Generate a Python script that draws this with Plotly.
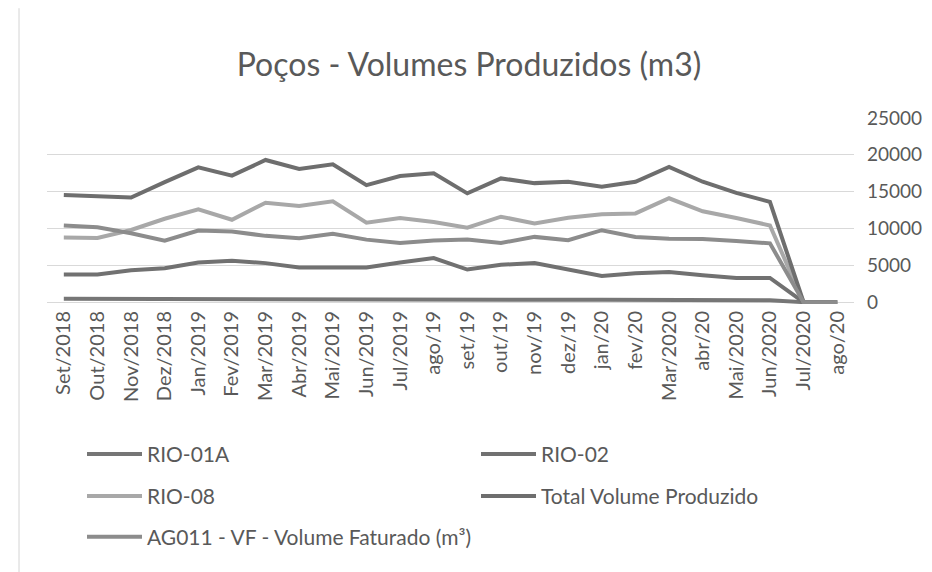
import plotly.graph_objects as go

months = ["Set/2018", "Out/2018", "Nov/2018", "Dez/2018", "Jan/2019", "Fev/2019",
          "Mar/2019", "Abr/2019", "Mai/2019", "Jun/2019", "Jul/2019", "ago/19",
          "set/19", "out/19", "nov/19", "dez/19", "jan/20", "fev/20",
          "Mar/2020", "abr/20", "Mai/2020", "Jun/2020", "Jul/2020", "ago/20"]

rio_01a = [450, 450, 430, 420, 410, 400, 390, 380, 370, 360, 350, 350,
           340, 340, 330, 320, 310, 300, 290, 280, 270, 260, 0, 0]
rio_02 = [3770, 3770, 4340, 4610, 5390, 5620, 5300, 4700, 4700, 4700, 5390, 5980,
          4430, 5070, 5300, 4470, 3560, 3930, 4100, 3650, 3290, 3290, 0, 0]
rio_08 = [8770, 8720, 9800, 11320, 12600, 11190, 13500, 13060, 13700, 10780, 11420, 10870,
          10100, 11600, 10680, 11460, 11920, 12050, 14100, 12330, 11420, 10410, 0, 0]
total = [14540, 14400, 14200, 16300, 18300, 17170, 19300, 18080, 18720, 15890, 17120, 17490,
         14770, 16800, 16160, 16350, 15660, 16350, 18350, 16350, 14840, 13610, 0, 0]
ag011 = [10410, 10180, 9360, 8360, 9730, 9590, 9000, 8680, 9270, 8490, 8040, 8360,
         8500, 8040, 8860, 8400, 9770, 8860, 8600, 8580, 8310, 7990, 0, 0]
y_ticks = [0, 5000, 10000, 15000, 20000, 25000]

series = [
    ("RIO-01A", rio_01a, "#767676", "legend"),
    ("RIO-02", rio_02, "#717171", "legend"),
    ("RIO-08", rio_08, "#a8a8a8", "legend2"),
    ("Total Volume Produzido", total, "#6e6e6e", "legend2"),
    ("AG011 - VF - Volume Faturado (m³)", ag011, "#8c8c8c", "legend3"),
]

FONT = "Lato"
TXT = "#595959"

W, H = 932, 572
YMIN, YMAX = -250, 25000
ML, MR, MT = 39, 86, 110
ZERO_PIX = 294.5
PH = (ZERO_PIX - MT) * (YMAX - YMIN) / YMAX
MB = H - MT - PH
PW = W - ML - MR

fig = go.Figure()
for name, vals, color, lg in series:
    fig.add_trace(go.Scatter(
        x=months, y=vals, name=name, mode="lines",
        line=dict(color=color, width=4),
        legend=lg,
    ))

def py(pix):
    return (MT + PH - pix) / PH

def px(pix):
    return (pix - ML) / PW

legend_common = dict(
    orientation="h", xanchor="left", yanchor="middle",
    font=dict(family=FONT, size=21, color=TXT),
    itemwidth=55, entrywidth=324, entrywidthmode="pixels",
    bgcolor="rgba(0,0,0,0)", borderwidth=0, traceorder="normal",
)

LX = 74
fig.update_layout(
    width=W, height=H,
    margin=dict(l=ML, r=MR, t=MT, b=MB, pad=0),
    paper_bgcolor="white", plot_bgcolor="white",
    title=dict(text="Poços - Volumes Produzidos (m3)", x=461 / W, xanchor="center",
               y=1 - 57 / H, yanchor="middle", yref="container",
               font=dict(family=FONT, size=32, color=TXT)),
    xaxis=dict(type="category", range=[-0.5, 23.5], tickangle=-90,
               showgrid=False, showline=False, zeroline=False, ticks="",
               tickfont=dict(family=FONT, size=20, color=TXT),
               ticklabelstandoff=2),
    yaxis=dict(side="right", range=[YMIN, YMAX], tickvals=y_ticks,
               tickformat="d",
               showgrid=True, gridcolor="#d9d9d9", gridwidth=1,
               zeroline=False, showline=False, ticks="",
               tickfont=dict(family=FONT, size=19, color=TXT),
               ticklabelstandoff=12),
    showlegend=True,
    legend=dict(x=px(LX), y=py(447), **legend_common),
    legend2=dict(x=px(LX), y=py(489), **legend_common),
    legend3=dict(x=px(LX), y=py(530), **legend_common),
    shapes=[dict(type="line", xref="paper", yref="paper",
                 x0=px(11), x1=px(11), y0=py(572), y1=py(0),
                 line=dict(color="#d4d4d4", width=1))],
)

fig.write_html("out.html")
